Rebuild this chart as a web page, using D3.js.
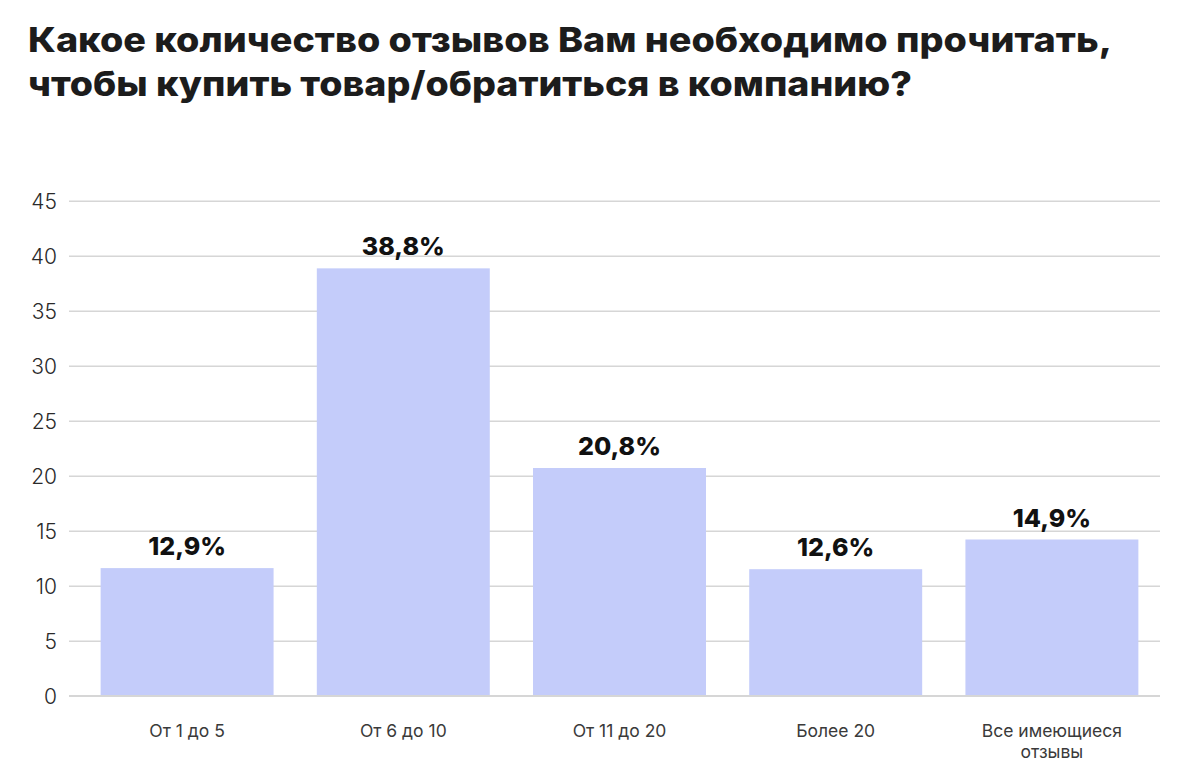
<!DOCTYPE html>
<html><head><meta charset="utf-8">
<script src="https://cdn.jsdelivr.net/npm/d3@7"></script>
<style>
html,body{margin:0;padding:0;background:#fff;}
svg{display:block;}
</style></head>
<body>
<svg id="chart" width="1186" height="776"></svg>
<script>
const titleLines = ["Какое количество отзывов Вам необходимо прочитать,", "чтобы купить товар/обратиться в компанию?"];
const categories = [["От 1 до 5"], ["От 6 до 10"], ["От 11 до 20"], ["Более 20"], ["Все имеющиеся", "отзывы"]];
const barValues = [11.6, 38.85, 20.7, 11.5, 14.2];
const valueLabels = ["12,9%", "38,8%", "20,8%", "12,6%", "14,9%"];
const yTicks = [0, 5, 10, 15, 20, 25, 30, 35, 40, 45];

const svg = d3.select("#chart");
const FONT = "Inter, 'Noto Sans', sans-serif";

const x = d3.scaleBand().domain(d3.range(categories.length)).range([79, 1160]).paddingInner(0.2).paddingOuter(0.1);
const y = d3.scaleLinear().domain([0, 45]).range([695.7, 200.7]);

// title
const titleW = [1084, 884];
svg.selectAll("text.title").data(titleLines).join("text")
  .attr("class", "title")
  .attr("x", 28).attr("y", (d, i) => 52 + i * 44)
  .attr("font-family", FONT).attr("font-weight", 800).attr("font-size", 34)
  .attr("fill", "#1c1c1c")
  .attr("textLength", (d, i) => titleW[i]).attr("lengthAdjust", "spacingAndGlyphs")
  .text(d => d);

// grid
const yAxis = d3.axisLeft(y).tickValues(yTicks).tickSize(-(1160 - 69)).tickPadding(12);
const gy = svg.append("g").attr("transform", "translate(69,0)").call(yAxis);
gy.select(".domain").remove();
gy.selectAll(".tick line").attr("stroke", "#d6d6d6").attr("stroke-width", 1.6);
gy.selectAll(".tick text").attr("font-family", FONT).attr("font-size", 21).attr("font-weight", 300)
  .attr("fill", "#2a2a2a").attr("dy", "0.36em");

// bars
svg.selectAll("rect.bar").data(barValues).join("rect")
  .attr("class", "bar")
  .attr("x", (d, i) => x(i)).attr("width", x.bandwidth())
  .attr("y", d => y(d)).attr("height", d => y(0) - y(d))
  .attr("fill", "#c4ccfa");

// redraw baseline over bars
svg.append("line").attr("x1", 69).attr("x2", 1160).attr("y1", y(0)).attr("y2", y(0))
  .attr("stroke", "#d6d6d6").attr("stroke-width", 1.6);

// value labels
svg.selectAll("text.val").data(barValues).join("text")
  .attr("class", "val")
  .attr("x", (d, i) => x(i) + x.bandwidth() / 2)
  .attr("y", d => y(d) - 13)
  .attr("text-anchor", "middle")
  .attr("font-family", FONT).attr("font-weight", 800).attr("font-size", 25)
  .attr("fill", "#111")
  .text((d, i) => valueLabels[i]);

// category labels
const cat = svg.selectAll("text.cat").data(categories).join("text")
  .attr("class", "cat")
  .attr("x", (d, i) => x(i) + x.bandwidth() / 2)
  .attr("y", 737)
  .attr("text-anchor", "middle")
  .attr("font-family", FONT).attr("font-size", 17.5).attr("fill", "#3a3a3a");
cat.selectAll("tspan").data(d => d).join("tspan")
  .attr("x", function() { return this.parentNode.getAttribute("x"); })
  .attr("dy", (d, i) => i === 0 ? 0 : 21)
  .text(d => d);
</script>
</body></html>
